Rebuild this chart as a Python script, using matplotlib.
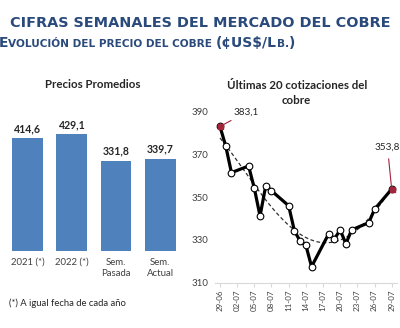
import numpy as np
import pandas as pd
import matplotlib
matplotlib.use("Agg")
import matplotlib.pyplot as plt

# datos del grafico de barras
bar_cats = ["2021 (*)", "2022 (*)", "Sem.\nPasada", "Sem.\nActual"]
bar_vals = [414.6, 429.1, 331.8, 339.7]
bar_lbls = ["414,6", "429,1", "331,8", "339,7"]

# ultimas cotizaciones (dd-mm, 2022)
fechas = ["29-06", "30-06", "01-07", "04-07", "05-07", "06-07", "07-07", "08-07",
          "11-07", "12-07", "13-07", "14-07", "15-07", "18-07", "19-07", "20-07",
          "21-07", "22-07", "25-07", "26-07", "29-07"]
precios = [383.1, 374.0, 361.5, 364.6, 354.2, 341.2, 355.4, 353.0,
           346.0, 334.3, 329.5, 327.6, 317.5, 332.9, 330.5, 334.7,
           328.2, 334.7, 338.1, 344.3, 353.8]
tick_fechas = ["29-06", "02-07", "05-07", "08-07", "11-07", "14-07",
               "17-07", "20-07", "23-07", "26-07", "29-07"]

navy = "#2A4A7C"
plt.rcParams["font.family"] = ["Lato", "DejaVu Sans"]

fig = plt.figure(figsize=(4.0, 3.28), dpi=100)
fig.patch.set_facecolor("white")

# ---- titulos
fig.text(0.5, 1 - 23 / 328, "CIFRAS SEMANALES DEL MERCADO DEL COBRE", ha="center", va="center",
         fontsize=10.4, fontweight="bold", color=navy, family="DejaVu Sans")

# subtitulo en versalitas, por tramos
partes = [("E", 10), ("VOLUCIÓN DEL PRECIO DEL COBRE ", 7.6), ("(¢US$/L", 10), ("B.", 7.6), (")", 10)]
fig.canvas.draw()
rend = fig.canvas.get_renderer()
x = -1 / 400
for txt, fs in partes:
    t = fig.text(x, 1 - 47 / 328, txt, ha="left", va="baseline", fontsize=fs,
                 fontweight="bold", color=navy, family="DejaVu Sans")
    bb = t.get_window_extent(renderer=rend)
    x = bb.x1 / fig.bbox.width

# ---- barras
ax1 = fig.add_axes([5.75 / 400, 1 - 251 / 328, 176.4 / 400, 130.7 / 328])
pos = np.arange(len(bar_vals))
ax1.bar(pos, bar_vals, width=0.70, color="#4F81BD")
for p, v, l in zip(pos, bar_vals, bar_lbls):
    ax1.annotate(l, (p, v), xytext=(0, 7), textcoords="offset points", ha="center",
                 va="center", fontsize=7.6, fontweight="bold", color="#262626")
ax1.set_xlim(-0.5, 3.5)
ax1.set_ylim(0, 480)
ax1.set_xticks(pos)
ax1.set_xticklabels(bar_cats, fontsize=6.9, color="#404040", linespacing=1.25)
ax1.tick_params(axis="x", length=0, pad=5)
ax1.set_yticks([])
for s in ax1.spines.values():
    s.set_visible(False)
fig.text(92.5 / 400, 1 - 85 / 328, "Precios Promedios", ha="center", va="center",
         fontsize=8.3, fontweight="bold", color="#262626")
fig.text(9 / 400, 1 - 303 / 328, "(*) A igual fecha de cada año", ha="left", va="center",
         fontsize=6.8, color="#262626")

# ---- linea
fx = pd.to_datetime([f + "-2022" for f in fechas], format="%d-%m-%Y")
ax2 = fig.add_axes([215 / 400, 1 - 282.7 / 328, 182 / 400, 171 / 328])
ax2.plot(fx, precios, color="black", lw=2.3, marker="o", ms=4.8,
         mfc="white", mec="black", mew=0.8, zorder=3)

# linea de tendencia (polinomica)
dias = (fx - fx[0]).days.values.astype(float)
coef = np.polyfit(dias, precios, 4)
xx = np.linspace(dias[0], dias[-1], 200)
ax2.plot(fx[0] + pd.to_timedelta(xx, unit="D"), np.polyval(coef, xx),
         color="#333333", lw=0.9, ls=(0, (3, 2)), zorder=2)

rojo = "#A3243B"
for i in (0, len(precios) - 1):
    ax2.plot(fx[i], precios[i], marker="s", ms=3.6, color=rojo, zorder=4)
ax2.annotate("383,1", (fx[0], precios[0]), xytext=(9.5, 10), textcoords="offset points",
             ha="left", va="center", fontsize=7.2, color="#262626",
             arrowprops=dict(arrowstyle="-", color=rojo, lw=0.8, shrinkA=1, shrinkB=2))
ax2.annotate("353,8", (fx[-1], precios[-1]), xytext=(-3, 30), textcoords="offset points",
             ha="center", va="center", fontsize=7.2, color="#262626",
             arrowprops=dict(arrowstyle="-", color=rojo, lw=0.8, shrinkA=3, shrinkB=2))

ax2.set_ylim(310, 390)
ax2.set_yticks([310, 330, 350, 370, 390])
ax2.set_xlim(fx[0] - pd.Timedelta(days=0.87), fx[-1] + pd.Timedelta(days=0.93))
tx = pd.to_datetime([f + "-2022" for f in tick_fechas], format="%d-%m-%Y")
ax2.set_xticks(tx)
ax2.set_xticklabels(tick_fechas, rotation=90, fontsize=5.8, color="#404040")
ax2.tick_params(axis="y", length=0, labelsize=7, labelcolor="#404040", pad=5)
ax2.tick_params(axis="x", length=3, color="#D9D9D9", pad=2)
for s in ("top", "right", "left"):
    ax2.spines[s].set_visible(False)
ax2.spines["bottom"].set_color("#D9D9D9")
fig.text(296.7 / 400, 1 - 93 / 328, "Últimas 20 cotizaciones del\ncobre", ha="center",
         va="center", fontsize=8.3, fontweight="bold", color="#262626", linespacing=1.35)

fig.savefig("out.png", dpi=100, facecolor="white")
